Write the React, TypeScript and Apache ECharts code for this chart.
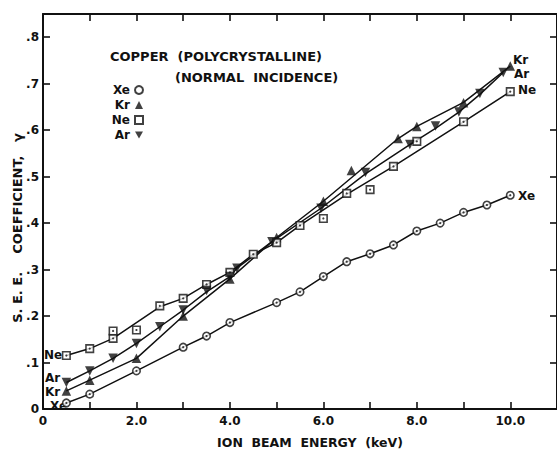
import React, { useEffect, useRef } from 'react';
import * as echarts from 'echarts';

// Measured points (energy keV, S.E.E. coefficient)
const xeData: [number, number][] = [
  [0.5, 0.013], [1.0, 0.032], [2.0, 0.082], [3.0, 0.133], [3.5, 0.157], [4.0, 0.186],
  [5.0, 0.229], [5.5, 0.252], [6.0, 0.285], [6.5, 0.317], [7.0, 0.334], [7.5, 0.353],
  [8.0, 0.383], [8.5, 0.4], [9.0, 0.423], [9.5, 0.439], [10.0, 0.46],
];
const krData: [number, number][] = [
  [0.5, 0.039], [1.0, 0.062], [2.0, 0.109], [3.0, 0.2], [4.0, 0.28], [5.0, 0.369],
  [6.0, 0.447], [6.6, 0.513], [7.6, 0.582], [8.0, 0.608], [9.0, 0.659], [10.0, 0.738],
];
const neData: [number, number][] = [
  [0.5, 0.115], [1.0, 0.13], [1.5, 0.152], [1.5, 0.168], [2.0, 0.17], [2.5, 0.222],
  [3.0, 0.238], [3.5, 0.268], [4.0, 0.294], [4.5, 0.333], [5.0, 0.358], [5.5, 0.395],
  [6.0, 0.41], [6.5, 0.464], [7.0, 0.472], [7.5, 0.522], [8.0, 0.576], [9.0, 0.618], [10.0, 0.683],
];
const arData: [number, number][] = [
  [0.5, 0.057], [1.0, 0.082], [1.5, 0.109], [2.0, 0.141], [2.5, 0.177], [3.0, 0.213],
  [3.5, 0.255], [4.0, 0.285], [4.15, 0.303], [4.9, 0.36], [5.95, 0.432], [6.9, 0.509],
  [7.85, 0.569], [8.4, 0.609], [8.9, 0.639], [9.35, 0.679], [9.85, 0.724],
];

// Hand-drawn curves through the data
const xeCurve: [number, number][] = xeData;
const krCurve: [number, number][] = [
  [0.5, 0.039], [1.0, 0.062], [2.0, 0.109], [3.0, 0.2], [4.0, 0.28], [5.0, 0.369],
  [6.0, 0.447], [7.6, 0.582], [8.0, 0.608], [9.0, 0.66], [10.0, 0.738],
];
const neCurve: [number, number][] = [
  [0.5, 0.115], [1.0, 0.13], [1.5, 0.152], [2.5, 0.22], [3.0, 0.238], [3.5, 0.268],
  [4.0, 0.294], [4.5, 0.333], [5.0, 0.358], [5.5, 0.395], [6.5, 0.462], [7.5, 0.522],
  [9.0, 0.618], [10.0, 0.683],
];
const arCurve: [number, number][] = [
  [0.5, 0.057], [1.0, 0.082], [1.5, 0.109], [2.0, 0.141], [2.5, 0.177], [3.0, 0.213],
  [3.5, 0.252], [4.0, 0.285], [4.15, 0.303], [4.9, 0.36], [5.95, 0.432], [6.9, 0.506],
  [7.85, 0.569], [8.4, 0.604], [8.9, 0.639], [9.35, 0.677], [9.85, 0.724],
];

const xMin = 0;
const xMax = 11;
const xStep = 1;
const yMin = 0;
const yMax = 0.85;
const yStep = 0.1;

const FONT = 'DejaVu Sans';
const BLACK = '#111';
const DOWN_TRIANGLE = 'path://M0,0L20,0L10,17.3Z';

const xLabel = (v: number) => {
  if (Math.abs(v) < 1e-9) return '0';
  const r = Math.round(v);
  return r % 2 === 0 && Math.abs(v - r) < 1e-9 ? r.toFixed(1) : '';
};
const yLabel = (v: number) => {
  if (Math.abs(v) < 1e-9) return '0';
  const t = Math.round(v * 10);
  if (Math.abs(v * 10 - t) > 1e-6) return '';
  return '.' + t;
};

export default function App() {
  const ref = useRef<HTMLDivElement>(null);
  useEffect(() => {
    const chart = echarts.init(ref.current!, null, { renderer: 'svg' });
    const axisLine = { show: true, onZero: false, lineStyle: { color: BLACK, width: 2 } };
    const axisTick = { show: true, inside: true, length: 7, lineStyle: { color: BLACK, width: 1.6 } };
    const lbl = { color: BLACK, fontSize: 12, fontWeight: 'bold' as const, fontFamily: FONT };
    const lineS = (name: string, data: [number, number][]) => ({
      name, type: 'line', data, showSymbol: false, symbol: 'none',
      lineStyle: { color: BLACK, width: 1.5 }, z: 2, silent: true,
    });
    const dots = (data: [number, number][]) => ({
      name: 'dots', type: 'scatter', data, symbol: 'circle', symbolSize: 2.2,
      itemStyle: { color: BLACK }, z: 5, silent: true,
    });
    const txt = (text: string, x: number, y: number, size = 12) => ({
      type: 'text', x, y,
      style: { text, fill: BLACK, font: `bold ${size}px "${FONT}"`, textVerticalAlign: 'middle', textAlign: 'left' },
    });
    chart.setOption({
      animation: false,
      backgroundColor: '#fff',
      grid: { left: 43, right: -2, top: 14, bottom: 40, containLabel: false },
      xAxis: [
        {
          type: 'value', min: xMin, max: xMax, interval: xStep, position: 'bottom',
          axisLine, axisTick, splitLine: { show: false },
          axisLabel: { ...lbl, formatter: xLabel, margin: 6, showMaxLabel: false },
        },
        {
          type: 'value', min: xMin, max: xMax, interval: xStep, position: 'top',
          axisLine, axisTick, splitLine: { show: false }, axisLabel: { show: false },
        },
      ],
      yAxis: [
        {
          type: 'value', min: yMin, max: yMax, interval: yStep, position: 'left',
          axisLine, axisTick, splitLine: { show: false },
          axisLabel: { ...lbl, formatter: yLabel, margin: 4 },
        },
        {
          type: 'value', min: yMin, max: yMax, interval: yStep, position: 'right',
          axisLine, axisTick, splitLine: { show: false }, axisLabel: { show: false },
        },
      ],
      legend: {
        data: ['Xe', 'Kr', 'Ne', 'Ar'],
        orient: 'vertical', left: 108, top: 84, align: 'right',
        itemWidth: 8, itemHeight: 8, itemGap: 3, padding: 0,
        selectedMode: false,
        textStyle: { color: BLACK, fontSize: 12, fontWeight: 'bold', fontFamily: FONT, width: 22, lineHeight: 12 },
      },
      series: [
        lineS('Xe curve', xeCurve),
        lineS('Kr curve', krCurve),
        lineS('Ne curve', neCurve),
        lineS('Ar curve', arCurve),
        {
          name: 'Xe', type: 'scatter', data: xeData, symbol: 'circle', symbolSize: 7.5,
          itemStyle: { color: '#fff', borderColor: BLACK, borderWidth: 1.6 }, z: 4,
        },
        dots(xeData),
        {
          name: 'Kr', type: 'scatter', data: krData, symbol: 'triangle', symbolSize: 9.5,
          itemStyle: { color: BLACK }, z: 4,
        },
        {
          name: 'Ne', type: 'scatter', data: neData, symbol: 'rect', symbolSize: 7.5,
          itemStyle: { color: '#fff', borderColor: BLACK, borderWidth: 1.6 }, z: 4,
        },
        dots(neData),
        {
          name: 'Ar', type: 'scatter', data: arData, symbol: DOWN_TRIANGLE, symbolSize: 9.5,
          itemStyle: { color: BLACK }, z: 4,
        },
      ],
      graphic: [
        txt('COPPER  (POLYCRYSTALLINE)', 110, 56, 13),
        txt('(NORMAL  INCIDENCE)', 175, 77, 13),
        txt('Kr', 513, 60),
        txt('Ar', 514, 74),
        txt('Ne', 518, 90),
        txt('Xe', 518, 196),
        txt('Ne', 44, 355),
        txt('Ar', 45, 378),
        txt('Kr', 45, 392),
        txt('Xe', 50, 406),
        {
          type: 'text', x: 310, y: 442,
          style: { text: 'ION  BEAM  ENERGY  (keV)', fill: BLACK, font: `bold 12.5px "${FONT}"`, textAlign: 'center', textVerticalAlign: 'middle' },
        },
        {
          type: 'text', x: 17, y: 228, rotation: Math.PI / 2,
          style: { text: 'S. E. E.    COEFFICIENT,   \u03b3', fill: BLACK, font: `bold 13px "${FONT}"`, textAlign: 'center', textVerticalAlign: 'middle' },
        },
      ],
    });
    return () => chart.dispose();
  }, []);
  return (
    <div
      ref={ref}
      style={{ position: 'absolute', left: 0, top: 0, width: 557, height: 449, background: '#fff' }}
    />
  );
}
